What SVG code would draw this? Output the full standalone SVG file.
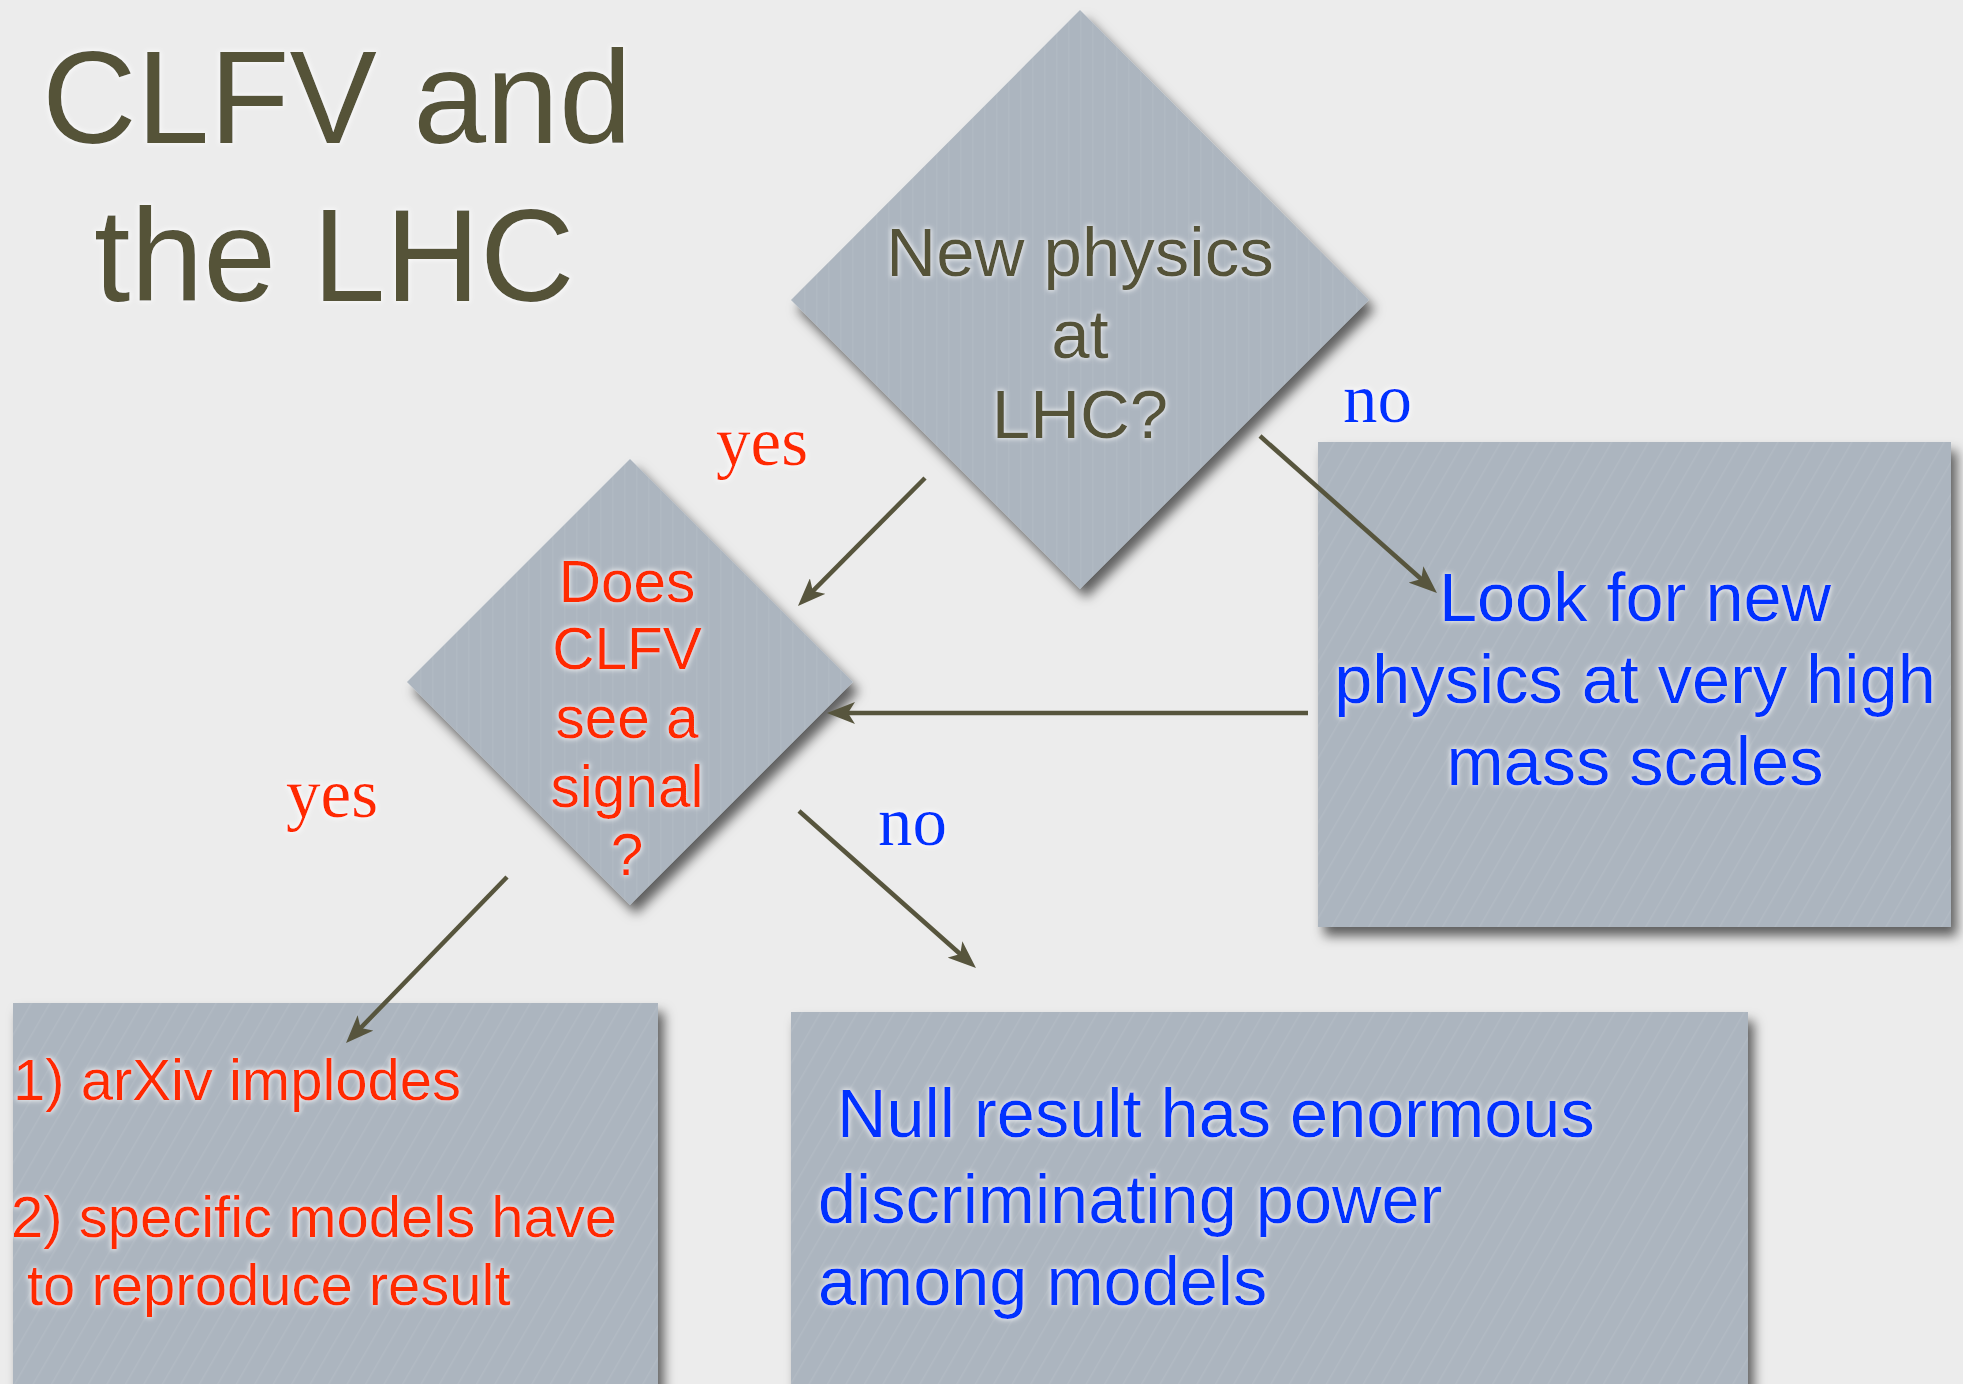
<svg xmlns="http://www.w3.org/2000/svg" width="1963" height="1384" viewBox="0 0 1963 1384">
  <defs>
    <style>
      .title { font-family: "Liberation Sans", Arial, sans-serif; font-size: 131px; fill: #545238; }
      .dq { font-family: "Liberation Sans", Arial, sans-serif; font-size: 69px; fill: #545238; text-anchor: middle; }
      .dr { font-family: "Liberation Sans", Arial, sans-serif; font-size: 58.5px; fill: #ff2a00; text-anchor: middle; }
      .bb { font-family: "Liberation Sans", Arial, sans-serif; font-size: 68.5px; fill: #0433ff; }
      .br { font-family: "Liberation Sans", Arial, sans-serif; font-size: 58px; fill: #ff2a00; }
      .lbl { font-family: "Liberation Serif", "Times New Roman", serif; font-size: 69px; }
      .shape { fill: #acb5bf; }
      .conn { stroke: #57553d; stroke-width: 4.5; fill: none; marker-end: url(#head); }
    </style>
    <filter id="shadow" x="-10%" y="-10%" width="130%" height="130%">
      <feDropShadow dx="6" dy="9" stdDeviation="6" flood-color="#000000" flood-opacity="0.6"/>
    </filter>
    <filter id="glow" x="-10%" y="-30%" width="120%" height="160%">
      <feMorphology in="SourceAlpha" operator="dilate" radius="1" result="d"/>
      <feGaussianBlur in="d" stdDeviation="2.5" result="b"/>
      <feFlood flood-color="#ffffff" flood-opacity="0.75"/>
      <feComposite in2="b" operator="in" result="g"/>
      <feMerge><feMergeNode in="g"/><feMergeNode in="SourceGraphic"/></feMerge>
    </filter>
    <pattern id="diag" width="16" height="16" patternUnits="userSpaceOnUse" patternTransform="rotate(30)">
      <line x1="0" y1="0" x2="0" y2="16" stroke="#ffffff" stroke-opacity="0.07" stroke-width="3"/>
    </pattern>
    <pattern id="vert" width="12" height="12" patternUnits="userSpaceOnUse">
      <line x1="0" y1="0" x2="0" y2="12" stroke="#ffffff" stroke-opacity="0.05" stroke-width="3"/>
    </pattern>
    <marker id="head" viewBox="0 -11 28 22" markerWidth="28" markerHeight="22" refX="20" refY="0" orient="auto" markerUnits="userSpaceOnUse">
      <path d="M0,-11 L28,0 L0,11 L7,0 Z" fill="#57553d"/>
    </marker>
  </defs>

  <rect width="1963" height="1384" fill="#ececec"/>

  <g id="title" filter="url(#glow)">
    <text class="title" x="42" y="143">CLFV and</text>
    <text class="title" x="94" y="301">the LHC</text>
  </g>

  <g id="node-lhc">
    <polygon class="shape" filter="url(#shadow)" points="1080,10 1369,300 1080,589 791,300"/>
    <polygon fill="url(#vert)" points="1080,10 1369,300 1080,589 791,300"/>
    <g filter="url(#glow)">
      <text class="dq" x="1080" y="276">New physics</text>
      <text class="dq" x="1080" y="358">at</text>
      <text class="dq" x="1080" y="438">LHC?</text>
    </g>
  </g>

  <g id="node-clfv">
    <polygon class="shape" filter="url(#shadow)" points="630,459 853,682 630,905 407,682"/>
    <polygon fill="url(#vert)" points="630,459 853,682 630,905 407,682"/>
    <g filter="url(#glow)">
      <text class="dr" x="627" y="602">Does</text>
      <text class="dr" x="627" y="669">CLFV</text>
      <text class="dr" x="627" y="738">see a</text>
      <text class="dr" x="627" y="807">signal</text>
      <text class="dr" x="627" y="875">?</text>
    </g>
  </g>

  <g id="node-highmass">
    <rect class="shape" filter="url(#shadow)" x="1318" y="442" width="633" height="485"/>
    <rect fill="url(#diag)" x="1318" y="442" width="633" height="485"/>
    <g filter="url(#glow)" style="text-anchor: middle">
      <text class="bb" x="1635" y="621">Look for new</text>
      <text class="bb" x="1635" y="703">physics at very high</text>
      <text class="bb" x="1635" y="785">mass scales</text>
    </g>
  </g>

  <g id="node-signal">
    <rect class="shape" filter="url(#shadow)" x="13" y="1003" width="645" height="420"/>
    <rect fill="url(#diag)" x="13" y="1003" width="645" height="420"/>
    <g filter="url(#glow)">
      <text class="br" x="13" y="1100">1) arXiv implodes</text>
      <text class="br" x="11" y="1237">2) specific models have</text>
      <text class="br" x="27" y="1305">to reproduce result</text>
    </g>
  </g>

  <g id="node-null">
    <rect class="shape" filter="url(#shadow)" x="791" y="1012" width="957" height="420"/>
    <rect fill="url(#diag)" x="791" y="1012" width="957" height="420"/>
    <g filter="url(#glow)">
      <text class="bb" x="837" y="1137">Null result has enormous</text>
      <text class="bb" x="818" y="1223">discriminating power</text>
      <text class="bb" x="818" y="1305">among models</text>
    </g>
  </g>

  <g id="connectors">
    <line class="conn" x1="925" y1="478" x2="803.6" y2="600.3"/>
    <line class="conn" x1="1260" y1="436" x2="1431" y2="587.7"/>
    <line class="conn" x1="1308" y1="713" x2="835" y2="713"/>
    <line class="conn" x1="799" y1="811" x2="970" y2="962.7"/>
    <line class="conn" x1="507" y1="877" x2="351.6" y2="1037.3"/>
  </g>

  <g id="labels" filter="url(#glow)">
    <text class="lbl" x="716" y="465" fill="#ff2a00">yes</text>
    <text class="lbl" x="1343" y="422" fill="#0433ff">no</text>
    <text class="lbl" x="286" y="817" fill="#ff2a00">yes</text>
    <text class="lbl" x="878" y="845" fill="#0433ff">no</text>
  </g>
</svg>
